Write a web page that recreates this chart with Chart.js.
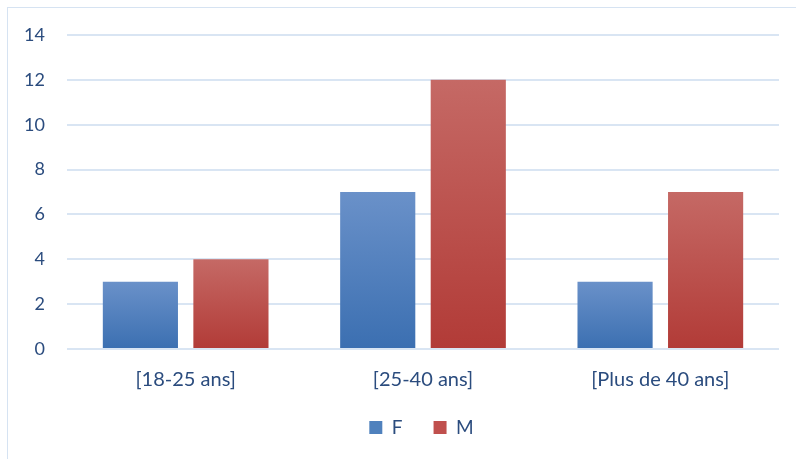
<!DOCTYPE html>
<html>
<head>
<meta charset="utf-8">
<script src="https://cdn.jsdelivr.net/npm/chart.js@4.4.0/dist/chart.umd.min.js"></script>
<style>
  html, body { margin: 0; padding: 0; background: #fff; overflow: hidden; }
  #wrap { position: relative; width: 796px; height: 459px; }
  #frame { position: absolute; left: 7px; top: 7px; width: 800px; height: 470px; border: 1.5px solid #d6e3f2; box-sizing: border-box; }
  #c { position: absolute; left: 0; top: 0; }
</style>
</head>
<body>
<div id="wrap">
  <div id="frame"></div>
  <canvas id="c" width="796" height="459"></canvas>
</div>
<script>
const categories = ["[18-25 ans]", "[25-40 ans]", "[Plus de 40 ans]"];
const seriesF = [3, 7, 3];
const seriesM = [4, 12, 7];
const seriesNames = ["F", "M"];
const yTicks = [0, 2, 4, 6, 8, 10, 12, 14];

const textColor = "#2b4c7e";
const fontFamily = "Lato, 'Open Sans', sans-serif";

function barGradient(ctx, topColor, bottomColor, fallback) {
  const chart = ctx.chart;
  const yScale = chart.scales && chart.scales.y;
  if (!yScale || ctx.type !== "data") return fallback;
  const v = ctx.raw;
  const yTop = yScale.getPixelForValue(v);
  const yBase = yScale.getPixelForValue(0);
  if (!isFinite(yTop) || !isFinite(yBase) || yTop === yBase) return fallback;
  const g = chart.ctx.createLinearGradient(0, yTop, 0, yBase);
  g.addColorStop(0, topColor);
  g.addColorStop(1, bottomColor);
  return g;
}

const layoutTweaks = {
  id: "layoutTweaks",
  afterLayout(chart) {
    const lg = chart.legend;
    if (lg) { lg.left += 32; lg.right += 32; }
    const xs = chart.scales.x;
    if (xs) { xs.bottom += 12; }
  }
};

new Chart(document.getElementById("c"), {
  type: "bar",
  data: {
    labels: categories,
    datasets: [
      {
        label: seriesNames[0],
        data: seriesF,
        backgroundColor: (ctx) => barGradient(ctx, "#6a91c9", "#3b6fb1", "#4f81bd"),
        borderWidth: 0
      },
      {
        label: seriesNames[1],
        data: seriesM,
        backgroundColor: (ctx) => barGradient(ctx, "#c56965", "#b23b37", "#c0504d"),
        borderWidth: 0
      }
    ]
  },
  plugins: [layoutTweaks],
  options: {
    responsive: false,
    animation: false,
    devicePixelRatio: 1,
    categoryPercentage: 0.763,
    barPercentage: 0.83,
    layout: { padding: { left: 0, right: 17, top: 35, bottom: 12 } },
    plugins: {
      legend: {
        position: "bottom",
        labels: {
          color: textColor,
          font: { family: fontFamily, size: 19 },
          boxWidth: 13,
          boxHeight: 13,
          padding: 31,
          generateLabels: (chart) => {
            const cols = ["#4f81bd", "#c0504d"];
            return chart.data.datasets.map((ds, i) => ({
              text: ds.label,
              fillStyle: cols[i],
              strokeStyle: cols[i],
              lineWidth: 0,
              fontColor: textColor,
              datasetIndex: i,
              hidden: false
            }));
          }
        }
      },
      tooltip: { enabled: false }
    },
    scales: {
      x: {
        grid: { display: false, drawTicks: false },
        border: { display: false },
        afterFit: (scale) => { scale.height = 38; },
        ticks: { color: textColor, font: { family: fontFamily, size: 20 }, padding: 19 }
      },
      y: {
        min: 0,
        max: 14,
        afterBuildTicks: (scale) => { scale.ticks = yTicks.map(v => ({ value: v })); },
        afterFit: (scale) => { scale.width = 67; },
        grid: { color: "#d9e5f3", lineWidth: 2, drawTicks: false, tickLength: 0 },
        border: { display: false },
        ticks: { color: textColor, font: { family: fontFamily, size: 18 }, padding: 22 }
      }
    }
  }
});
</script>
</body>
</html>
